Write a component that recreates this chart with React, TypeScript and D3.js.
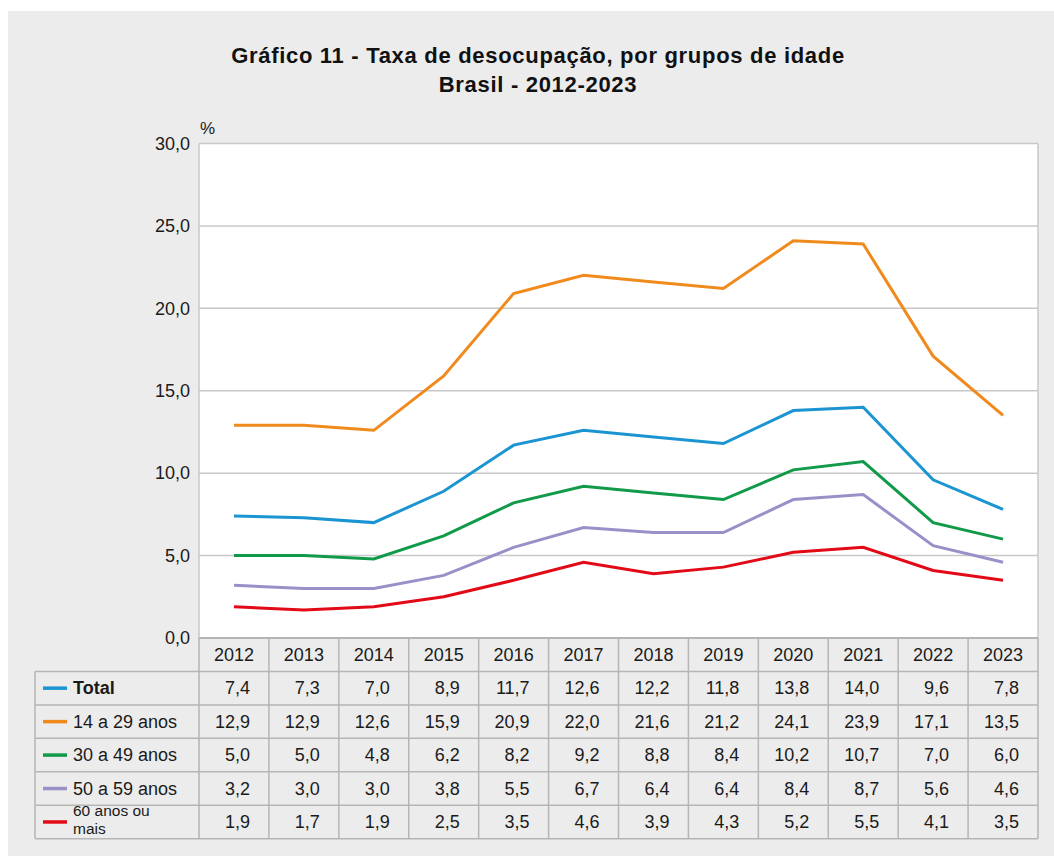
import React from "react";
import * as d3 from "d3";

const years = ["2012","2013","2014","2015","2016","2017","2018","2019","2020","2021","2022","2023"];
const total = [7.4,7.3,7.0,8.9,11.7,12.6,12.2,11.8,13.8,14.0,9.6,7.8];
const age14to29 = [12.9,12.9,12.6,15.9,20.9,22.0,21.6,21.2,24.1,23.9,17.1,13.5];
const age30to49 = [5.0,5.0,4.8,6.2,8.2,9.2,8.8,8.4,10.2,10.7,7.0,6.0];
const age50to59 = [3.2,3.0,3.0,3.8,5.5,6.7,6.4,6.4,8.4,8.7,5.6,4.6];
const age60plus = [1.9,1.7,1.9,2.5,3.5,4.6,3.9,4.3,5.2,5.5,4.1,3.5];
const yTicks = [0,5,10,15,20,25,30];

const seriesNames = ["Total","14 a 29 anos","30 a 49 anos","50 a 59 anos","60 anos ou mais"];
const seriesValues = [total, age14to29, age30to49, age50to59, age60plus];
const seriesColors = ["#1b94d2","#f08a1d","#109a49","#9a90c8","#e30a17"];

const FONT = "'Liberation Sans', Arial, Helvetica, sans-serif";

export default function App() {
  const left = 199, right = 1038, top = 143.5, bottom = 638;
  const tableLeft = 35;
  const rowH = 33.45;
  const fmt = (v: number) => d3.format(".1f")(v).replace(".", ",");

  const x = d3.scaleBand<string>().domain(years).range([left, right]);
  const y = d3.scaleLinear().domain([0, 30]).range([bottom, top]);
  const cx = (yr: string) => (x(yr) as number) + x.bandwidth() / 2;

  const line = d3.line<number>()
    .x((_, i) => cx(years[i]))
    .y((v) => y(v))
    .curve(d3.curveLinear);

  const gridColor = "#c8c8c8";
  const borderColor = "#b5b5b5";
  const tableBottom = bottom + rowH * 6;

  return (
    <svg width={1054} height={856} style={{ position: "absolute", left: 0, top: 0 }} fontFamily={FONT}>
      <rect x={8} y={11} width={1046} height={845} fill="#ececec" />
      <text x={538} y={63} textAnchor="middle" fontWeight="bold" fontSize={22} letterSpacing={0.7} fill="#111">
        Gráfico 11 - Taxa de desocupação, por grupos de idade
      </text>
      <text x={538} y={92} textAnchor="middle" fontWeight="bold" fontSize={22} letterSpacing={0.7} fill="#111">
        Brasil - 2012-2023
      </text>

      <rect x={left} y={top} width={right - left} height={bottom - top} fill="#ffffff" />
      {yTicks.filter((t) => t > 0).map((t) => (
        <line key={t} x1={left} x2={right} y1={y(t)} y2={y(t)} stroke={gridColor} strokeWidth={1.5} />
      ))}
      <line x1={left} x2={left} y1={top} y2={bottom} stroke={gridColor} strokeWidth={1.5} />
      <line x1={right} x2={right} y1={top} y2={bottom} stroke={gridColor} strokeWidth={1.5} />
      {yTicks.map((t) => (
        <text key={t} x={190} y={y(t)} dy="0.35em" textAnchor="end" fontSize={18} fill="#1a1a1a">
          {fmt(t)}
        </text>
      ))}
      <text x={200} y={134} fontSize={17} fill="#1a1a1a">%</text>

      {seriesValues.map((vals, i) => (
        <path key={i} d={line(vals) || ""} fill="none" stroke={seriesColors[i]} strokeWidth={3} strokeLinejoin="miter" strokeLinecap="butt" />
      ))}

      {/* table */}
      {years.map((yr) => (
        <text key={yr} x={cx(yr)} y={bottom + rowH / 2} dy="0.35em" textAnchor="middle" fontSize={18} fill="#1a1a1a">
          {yr}
        </text>
      ))}
      {seriesValues.map((vals, r) => {
        const rc = bottom + rowH * (r + 1.5);
        return (
          <g key={r}>
            {vals.map((v, i) => (
              <text key={i} x={cx(years[i]) + 16} y={rc} dy="0.35em" textAnchor="end" fontSize={18} fill="#1a1a1a">
                {fmt(v)}
              </text>
            ))}
            <line x1={43} x2={67} y1={rc} y2={rc} stroke={seriesColors[r]} strokeWidth={3.5} />
            {r === 4 ? (
              <g>
                <text x={73} y={rc - 5.5} fontSize={15.5} fill="#1a1a1a">60 anos ou</text>
                <text x={73} y={rc + 12} fontSize={15.5} fill="#1a1a1a">mais</text>
              </g>
            ) : (
              <text x={73} y={rc} dy="0.35em" fontSize={18} fill="#1a1a1a" fontWeight={r === 0 ? "bold" : "normal"}>
                {seriesNames[r]}
              </text>
            )}
          </g>
        );
      })}
      {/* table horizontal lines */}
      {d3.range(1, 7).map((k) => (
        <line key={k} x1={tableLeft} x2={right} y1={bottom + rowH * k} y2={bottom + rowH * k} stroke={borderColor} strokeWidth={1.5} />
      ))}
      <line x1={left} x2={right} y1={bottom} y2={bottom} stroke={borderColor} strokeWidth={2} />
      {/* table vertical lines */}
      <line x1={tableLeft} x2={tableLeft} y1={bottom + rowH} y2={tableBottom} stroke={borderColor} strokeWidth={1.5} />
      {years.map((yr) => (
        <line key={yr} x1={x(yr) as number} x2={x(yr) as number} y1={bottom} y2={tableBottom} stroke={borderColor} strokeWidth={1.5} />
      ))}
      <line x1={right} x2={right} y1={bottom} y2={tableBottom} stroke={borderColor} strokeWidth={1.5} />
    </svg>
  );
}
